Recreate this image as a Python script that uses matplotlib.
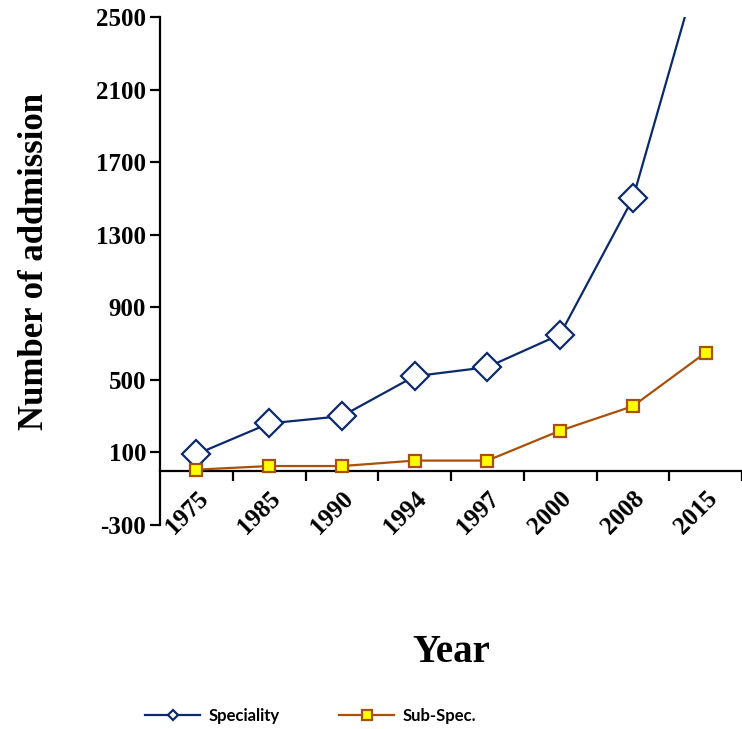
import numpy as np
import matplotlib.pyplot as plt

years = ["1975", "1985", "1990", "1994", "1997", "2000", "2008", "2015"]
speciality = [90, 260, 300, 520, 570, 750, 1500, 2900]
sub_spec = [5, 25, 25, 55, 55, 220, 355, 650]
y_ticks = [-300, 100, 500, 900, 1300, 1700, 2100, 2500]

navy = "#0b2a6b"
brown = "#a8500c"

fig = plt.figure(figsize=(7.42, 7.29), dpi=100)
ax = fig.add_axes([160 / 742, 1 - 525 / 729, 582 / 742, 508 / 729])

x = np.arange(len(years))
ax.plot(x, speciality, color=navy, lw=1.6, marker="D", ms=14,
        mfc="white", mec=navy, mew=1.6, label="Speciality", zorder=3)
ax.plot(x, sub_spec, color=brown, lw=1.6, marker="s", ms=9,
        mfc="#ffff00", mec=brown, mew=1.6, label="Sub-Spec.", zorder=4)

# axes styling: category axis crosses at zero
for side in ["top", "right"]:
    ax.spines[side].set_visible(False)
ax.spines["bottom"].set_position(("data", 0))
ax.spines["bottom"].set_linewidth(1.6)
ax.spines["left"].set_linewidth(1.6)

ax.set_yticks(y_ticks)
ax.set_yticklabels([str(v) for v in y_ticks], fontsize=18,
                   fontweight="bold", family="Liberation Serif")
ax.tick_params(axis="y", direction="out", length=7, width=1.6, pad=3)

ax.set_xticks(x)
ax.set_xticklabels(years, fontsize=18, fontweight="bold",
                   family="Liberation Serif", rotation=45,
                   ha="right", va="top", rotation_mode="anchor")
ax.tick_params(axis="x", which="major", length=0, pad=12)
ax.set_xticks(np.arange(1, len(years) + 1) - 0.5, minor=True)
ax.tick_params(axis="x", which="minor", direction="out", length=7, width=1.6)

ax.set_xlim(-0.5, len(years) - 0.5)
ax.set_ylim(-300, 2500)

fig.text(0.046, 1 - 262 / 729, "Number of addmission", rotation=90,
         ha="center", va="center", fontsize=25, fontweight="bold",
         family="Liberation Serif")
fig.text(451 / 742, 1 - 652 / 729, "Year", ha="center", va="center",
         fontsize=28, fontweight="bold", family="Liberation Serif")

handles, labels = ax.get_legend_handles_labels()
leg = fig.legend(handles, labels, loc="center left",
                 bbox_to_anchor=(130 / 742, 1 - 716 / 729), ncol=2,
                 frameon=False, handlelength=3.3, handletextpad=0.5,
                 columnspacing=3.6, prop={"family": "Lato", "weight": "bold",
                                          "size": 12})
# smaller markers in the key
leg.legend_handles[0].set_markersize(5)
leg.legend_handles[1].set_markersize(7.5)

fig.savefig("out.png", dpi=100)
